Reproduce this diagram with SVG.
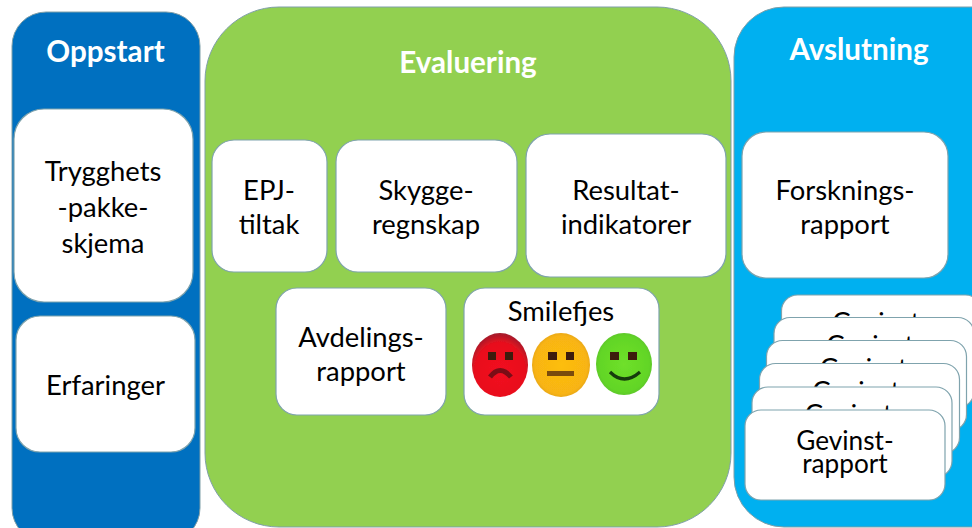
<svg xmlns="http://www.w3.org/2000/svg" width="972" height="528" viewBox="0 0 972 528">
<style>
.p{stroke:#7f9fa8;stroke-width:1}
.c{fill:#fff;stroke:#7fa3ad;stroke-width:1.2}
text{font-family:"Lato","Liberation Sans",sans-serif;text-anchor:middle;fill:#000;font-size:27.4px}
.h{fill:#fff;font-weight:700;font-size:29.6px}
.g{font-size:26.2px}
.e{fill:#3d1a08}
</style>
<defs>
<radialGradient id="r" cx=".5" cy=".6" r=".6"><stop offset="0" stop-color="#f21020"/><stop offset=".75" stop-color="#e8101e"/><stop offset="1" stop-color="#a01c2c"/></radialGradient>
<radialGradient id="y" cx=".5" cy=".5" r=".6"><stop offset="0" stop-color="#fdbe10"/><stop offset=".75" stop-color="#f8b412"/><stop offset="1" stop-color="#d09428"/></radialGradient>
<radialGradient id="n" cx=".5" cy=".5" r=".6"><stop offset="0" stop-color="#6fe02a"/><stop offset=".75" stop-color="#62d525"/><stop offset="1" stop-color="#58b038"/></radialGradient>
<filter id="s" x="-5%" y="-5%" width="110%" height="110%"><feGaussianBlur stdDeviation="0.7"/></filter>
</defs>
<rect width="972" height="528" fill="#fff"/>
<g id="oppstart">
<rect class="p" x="12" y="12" width="188" height="530" rx="34" fill="#0070c0"/>
<text class="h" x="105.500" y="62">Oppstart</text>
</g>
<g id="evaluering">
<rect class="p" x="205" y="7" width="526" height="520" rx="74" fill="#92d050"/>
<text class="h" x="468" y="73">Evaluering</text>
</g>
<g id="avslutning">
<rect class="p" x="734" y="7" width="300" height="520" rx="50" fill="#00b0f0"/>
<text class="h" x="859" y="60">Avslutning</text>
</g>
<g id="trygghets">
<rect class="c" x="14" y="109" width="179" height="193" rx="30"/>
<text x="103" y="181">Trygghets</text><text x="103" y="217">-pakke-</text><text x="103" y="253">skjema</text>
</g>
<g id="erfaringer">
<rect class="c" x="16" y="316" width="179" height="136" rx="24"/>
<text x="105.500" y="395">Erfaringer</text>
</g>
<g id="epj">
<rect class="c" x="212" y="140" width="115" height="132" rx="22"/>
<text x="269" y="200">EPJ-</text><text x="269" y="234">tiltak</text>
</g>
<g id="skygge">
<rect class="c" x="336" y="140" width="181" height="132" rx="22"/>
<text x="426" y="200">Skygge-</text><text x="426" y="234">regnskap</text>
</g>
<g id="resultat">
<rect class="c" x="526" y="134" width="200" height="143" rx="24"/>
<text x="626" y="200">Resultat-</text><text x="626" y="234">indikatorer</text>
</g>
<g id="avdeling">
<rect class="c" x="276" y="288" width="170" height="127" rx="21"/>
<text x="361" y="347">Avdelings-</text><text x="361" y="381">rapport</text>
</g>
<g id="smilefjes">
<rect class="c" x="464" y="288" width="195" height="127" rx="21"/>
<text x="561" y="321">Smilefjes</text>
<rect x="472" y="330" width="182" height="66" fill="#fff"/>
<g filter="url(#s)">
<ellipse cx="500" cy="365" rx="28" ry="32" fill="url(#r)"/>
<rect class="e" x="488" y="352" width="8" height="8"/><rect class="e" x="505" y="352" width="8" height="8"/>
<path d="M490 377Q500 364 511 377" fill="none" stroke="#7a1018" stroke-width="5"/>
<ellipse cx="561" cy="365" rx="29" ry="32" fill="url(#y)"/>
<rect class="e" x="548" y="352" width="9" height="8"/><rect class="e" x="566" y="352" width="8" height="8"/>
<rect x="547" y="371" width="27" height="5" fill="#7a4c0c"/>
<ellipse cx="624" cy="364" rx="28" ry="31" fill="url(#n)"/>
<rect class="e" x="610" y="352" width="9" height="8"/><rect class="e" x="628" y="352" width="9" height="8"/>
<path d="M610 372Q624 386 640 372" fill="none" stroke="#143a08" stroke-width="3.200"/>
</g>
</g>
<g id="forskning">
<rect class="c" x="742" y="132" width="206" height="146" rx="24"/>
<text x="845" y="200">Forsknings-</text><text x="845" y="234">rapport</text>
</g>
<g id="gevinst6"><rect class="c" x="781.500" y="295" width="200" height="90" rx="16"/><text class="g" x="881" y="332">Gevinst-</text></g>
<g id="gevinst5"><rect class="c" x="774" y="317.500" width="200" height="90" rx="16"/><text class="g" x="875" y="355">Gevinst-</text></g>
<g id="gevinst4"><rect class="c" x="766.500" y="340.500" width="200" height="90" rx="16"/><text class="g" x="868.500" y="378">Gevinst-</text></g>
<g id="gevinst3"><rect class="c" x="759.500" y="363.500" width="200" height="90" rx="16"/><text class="g" x="861" y="401">Gevinst-</text></g>
<g id="gevinst2"><rect class="c" x="752" y="387" width="200" height="90" rx="16"/><text class="g" x="853.500" y="424">Gevinst-</text></g>
<g id="gevinst1"><rect class="c" x="745" y="410" width="200" height="90" rx="16"/><text class="g" x="845" y="450">Gevinst-</text><text class="g" x="845" y="473">rapport</text></g>
</svg>
